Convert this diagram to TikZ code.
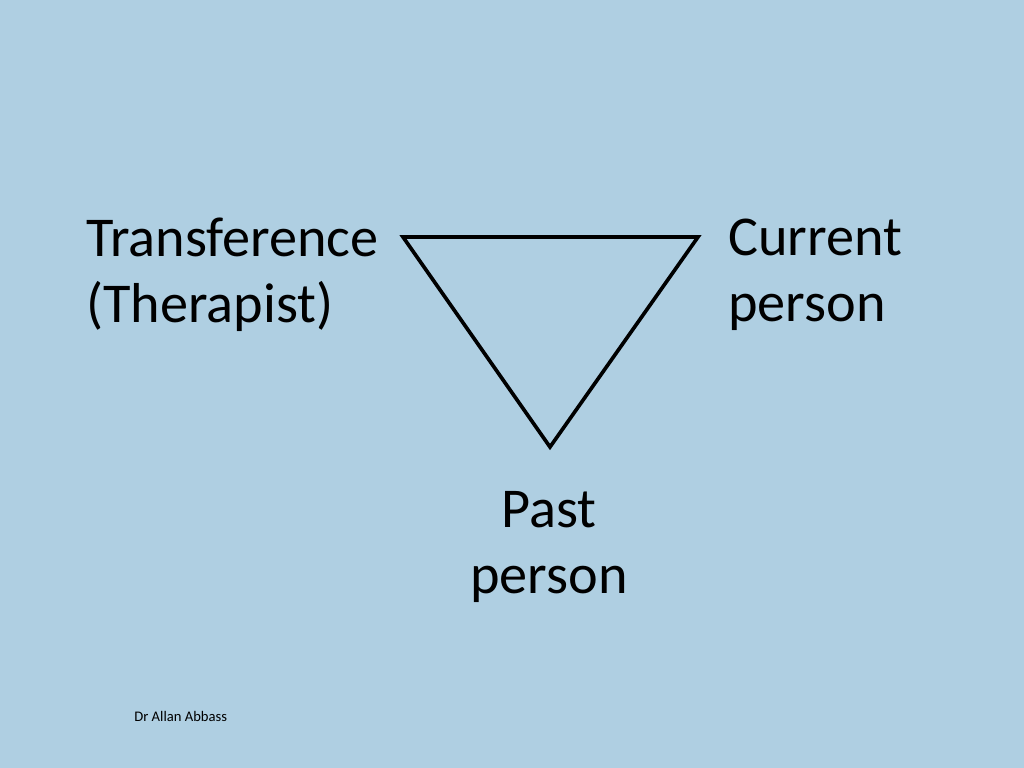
\documentclass[tikz,border=0pt]{standalone}
\usepackage{fontspec}
\setmainfont{Carlito}
\usepackage{tikz}
\definecolor{slideblue}{RGB}{175,207,226}

\begin{document}
\begin{tikzpicture}[x=0.025cm,y=-0.025cm,
  label/.style={font=\fontsize{40}{47}\selectfont,inner sep=0pt,align=left},
  edge/.style={line width=2.6pt,line join=miter}]
\fill[slideblue] (0,0) rectangle (1024,768);
\useasboundingbox (0,0) rectangle (1024,768);
\coordinate (tl) at (403,237);
\coordinate (tr) at (698,237);
\coordinate (bot) at (550,447);
\draw[edge] (tl) -- (tr) -- (bot) -- cycle;
\node[label,anchor=west] (transference) at (86,275) {Transference\\(Therapist)};
\node[label,anchor=west] (current) at (728,275) {Current\\person};
\node[label,align=center] (past) at (549,547) {Past\\person};
\node[font=\fontsize{10.4}{12}\selectfont,anchor=west,inner sep=0pt] (author) at (134,716) {Dr Allan Abbass};
\end{tikzpicture}
\end{document}
